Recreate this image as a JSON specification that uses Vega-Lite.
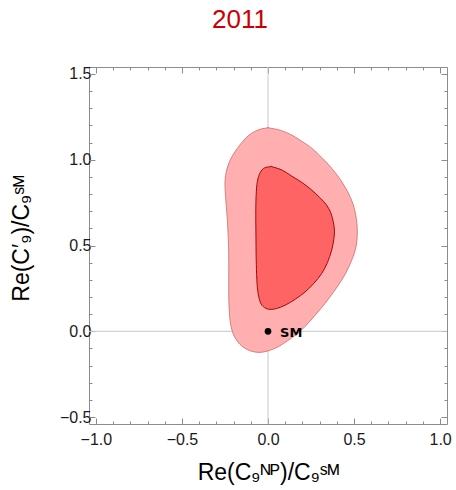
{
  "$schema": "https://vega.github.io/schema/vega-lite/v6.json",
  "autosize": {"type": "none"},
  "padding": {"left": 89, "top": 67, "right": 9, "bottom": 66},
  "width": 358,
  "height": 357,
  "title": {
    "text": "2011",
    "color": "#cc0000",
    "font": "Liberation Sans",
    "fontSize": 26,
    "fontWeight": "normal",
    "anchor": "middle",
    "dx": -28,
    "offset": 12,
    "baseline": "alphabetic"
  },
  "config": {
    "view": {"stroke": "#8c8c8c", "strokeWidth": 1},
    "axis": {
      "domain": false,
      "grid": false,
      "tickColor": "#8c8c8c",
      "tickWidth": 1,
      "labelFont": "Liberation Sans",
      "labelFontSize": 16,
      "labelColor": "#1a1a1a",
      "titleFont": "Liberation Sans",
      "titleFontSize": 23,
      "titleFontWeight": "normal",
      "titleColor": "#000000"
    }
  },
  "datasets": {
    "outer": [
      {"i": 0, "x": 0.0, "y": 1.186},
      {"i": 1, "x": 0.07, "y": 1.172},
      {"i": 2, "x": 0.137, "y": 1.144},
      {"i": 3, "x": 0.2, "y": 1.105},
      {"i": 4, "x": 0.254, "y": 1.067},
      {"i": 5, "x": 0.315, "y": 1.01},
      {"i": 6, "x": 0.37, "y": 0.95},
      {"i": 7, "x": 0.42, "y": 0.885},
      {"i": 8, "x": 0.463, "y": 0.813},
      {"i": 9, "x": 0.493, "y": 0.745},
      {"i": 10, "x": 0.51, "y": 0.677},
      {"i": 11, "x": 0.518, "y": 0.61},
      {"i": 12, "x": 0.518, "y": 0.55},
      {"i": 13, "x": 0.511, "y": 0.49},
      {"i": 14, "x": 0.494, "y": 0.434},
      {"i": 15, "x": 0.465, "y": 0.365},
      {"i": 16, "x": 0.428, "y": 0.298},
      {"i": 17, "x": 0.38, "y": 0.228},
      {"i": 18, "x": 0.331, "y": 0.162},
      {"i": 19, "x": 0.275, "y": 0.095},
      {"i": 20, "x": 0.215, "y": 0.028},
      {"i": 21, "x": 0.165, "y": -0.018},
      {"i": 22, "x": 0.118, "y": -0.052},
      {"i": 23, "x": 0.06, "y": -0.09},
      {"i": 24, "x": 0.0, "y": -0.114},
      {"i": 25, "x": -0.05, "y": -0.123},
      {"i": 26, "x": -0.1, "y": -0.115},
      {"i": 27, "x": -0.145, "y": -0.092},
      {"i": 28, "x": -0.18, "y": -0.055},
      {"i": 29, "x": -0.203, "y": -0.013},
      {"i": 30, "x": -0.217, "y": 0.04},
      {"i": 31, "x": -0.224, "y": 0.103},
      {"i": 32, "x": -0.228, "y": 0.2},
      {"i": 33, "x": -0.228, "y": 0.298},
      {"i": 34, "x": -0.228, "y": 0.4},
      {"i": 35, "x": -0.229, "y": 0.492},
      {"i": 36, "x": -0.233, "y": 0.59},
      {"i": 37, "x": -0.238, "y": 0.677},
      {"i": 38, "x": -0.246, "y": 0.776},
      {"i": 39, "x": -0.25, "y": 0.872},
      {"i": 40, "x": -0.24, "y": 0.94},
      {"i": 41, "x": -0.221, "y": 0.995},
      {"i": 42, "x": -0.193, "y": 1.045},
      {"i": 43, "x": -0.163, "y": 1.086},
      {"i": 44, "x": -0.13, "y": 1.125},
      {"i": 45, "x": -0.095, "y": 1.154},
      {"i": 46, "x": -0.05, "y": 1.176},
      {"i": 47, "x": 0.0, "y": 1.186}
    ],
    "inner": [
      {"i": 0, "x": 0.02, "y": 0.96},
      {"i": 1, "x": 0.08, "y": 0.94},
      {"i": 2, "x": 0.137, "y": 0.905},
      {"i": 3, "x": 0.2, "y": 0.865},
      {"i": 4, "x": 0.254, "y": 0.823},
      {"i": 5, "x": 0.3, "y": 0.78},
      {"i": 6, "x": 0.34, "y": 0.736},
      {"i": 7, "x": 0.365, "y": 0.69},
      {"i": 8, "x": 0.379, "y": 0.638},
      {"i": 9, "x": 0.386, "y": 0.59},
      {"i": 10, "x": 0.383, "y": 0.54},
      {"i": 11, "x": 0.37, "y": 0.473},
      {"i": 12, "x": 0.345, "y": 0.4},
      {"i": 13, "x": 0.312, "y": 0.337},
      {"i": 14, "x": 0.265, "y": 0.278},
      {"i": 15, "x": 0.215, "y": 0.229},
      {"i": 16, "x": 0.16, "y": 0.188},
      {"i": 17, "x": 0.099, "y": 0.152},
      {"i": 18, "x": 0.05, "y": 0.133},
      {"i": 19, "x": 0.012, "y": 0.128},
      {"i": 20, "x": -0.02, "y": 0.138},
      {"i": 21, "x": -0.045, "y": 0.17},
      {"i": 22, "x": -0.06, "y": 0.239},
      {"i": 23, "x": -0.066, "y": 0.33},
      {"i": 24, "x": -0.069, "y": 0.45},
      {"i": 25, "x": -0.07, "y": 0.56},
      {"i": 26, "x": -0.071, "y": 0.68},
      {"i": 27, "x": -0.069, "y": 0.79},
      {"i": 28, "x": -0.062, "y": 0.872},
      {"i": 29, "x": -0.045, "y": 0.925},
      {"i": 30, "x": -0.02, "y": 0.952},
      {"i": 31, "x": 0.02, "y": 0.96}
    ],
    "sm": [{"x": 0, "y": 0, "label": "SM", "lx": 0.135, "ly": -0.008}]
  },
  "resolve": {"axis": {"x": "independent", "y": "independent"}},
  "layer": [
    {
      "data": {"values": [{"x": 0}]},
      "mark": {"type": "rule", "color": "#c8c8c8", "strokeWidth": 1},
      "encoding": {
        "x": {
          "field": "x", "type": "quantitative",
          "scale": {"domain": [-1.04, 1.04], "nice": false, "zero": false},
          "axis": {
            "orient": "bottom",
            "values": [-1, -0.5, 0, 0.5, 1],
            "format": ".1f",
            "tickSize": -6,
            "labelPadding": 13,
            "title": "Re(C₉ᴺᴾ)/C₉ˢᴹ",
            "titleX": 179,
            "titleY": 55,
            "titleAlign": "center",
            "titleBaseline": "alphabetic"
          }
        }
      }
    },
    {
      "data": {"values": [{"y": 0}]},
      "mark": {"type": "rule", "color": "#c8c8c8", "strokeWidth": 1},
      "encoding": {
        "y": {
          "field": "y", "type": "quantitative",
          "scale": {"domain": [-0.54, 1.54], "nice": false, "zero": false},
          "axis": {
            "orient": "left",
            "values": [-0.5, 0, 0.5, 1, 1.5],
            "format": ".1f",
            "tickSize": -6,
            "labelPadding": 4,
            "title": "Re(C′₉)/C₉ˢᴹ",
            "titleAngle": -90,
            "titleX": -61,
            "titleY": 171,
            "titleAlign": "center",
            "titleBaseline": "alphabetic"
          }
        }
      }
    },
    {
      "data": {"name": "outer"},
      "mark": {"type": "line", "filled": true, "fill": "#ffafaf", "stroke": "#cc6a6a", "strokeWidth": 0.8, "interpolate": "cardinal-closed"},
      "encoding": {
        "x": {
          "field": "x", "type": "quantitative",
          "scale": {"domain": [-1.04, 1.04], "nice": false, "zero": false},
          "axis": {
            "orient": "bottom",
            "values": [-1, -0.9, -0.8, -0.7, -0.6, -0.5, -0.4, -0.3, -0.2, -0.1, 0, 0.1, 0.2, 0.3, 0.4, 0.5, 0.6, 0.7, 0.8, 0.9, 1],
            "labels": false, "tickSize": -3, "title": null
          }
        },
        "y": {
          "field": "y", "type": "quantitative",
          "scale": {"domain": [-0.54, 1.54], "nice": false, "zero": false},
          "axis": {
            "orient": "left",
            "values": [-0.5, -0.4, -0.3, -0.2, -0.1, 0, 0.1, 0.2, 0.3, 0.4, 0.5, 0.6, 0.7, 0.8, 0.9, 1, 1.1, 1.2, 1.3, 1.4, 1.5],
            "labels": false, "tickSize": -3, "title": null
          }
        },
        "order": {"field": "i", "type": "quantitative"}
      }
    },
    {
      "data": {"name": "inner"},
      "mark": {"type": "line", "filled": true, "fill": "#ff6464", "stroke": "#9e0a0a", "strokeWidth": 1, "interpolate": "cardinal-closed"},
      "encoding": {
        "x": {
          "field": "x", "type": "quantitative",
          "scale": {"domain": [-1.04, 1.04], "nice": false, "zero": false},
          "axis": {
            "orient": "top",
            "values": [-1, -0.9, -0.8, -0.7, -0.6, -0.5, -0.4, -0.3, -0.2, -0.1, 0, 0.1, 0.2, 0.3, 0.4, 0.5, 0.6, 0.7, 0.8, 0.9, 1],
            "labels": false, "tickSize": -3, "title": null
          }
        },
        "y": {
          "field": "y", "type": "quantitative",
          "scale": {"domain": [-0.54, 1.54], "nice": false, "zero": false},
          "axis": {
            "orient": "right",
            "values": [-0.5, -0.4, -0.3, -0.2, -0.1, 0, 0.1, 0.2, 0.3, 0.4, 0.5, 0.6, 0.7, 0.8, 0.9, 1, 1.1, 1.2, 1.3, 1.4, 1.5],
            "labels": false, "tickSize": -3, "title": null
          }
        },
        "order": {"field": "i", "type": "quantitative"}
      }
    },
    {
      "data": {"name": "sm"},
      "mark": {"type": "point", "filled": true, "color": "#000000", "opacity": 1, "size": 45},
      "encoding": {
        "x": {
          "field": "x", "type": "quantitative",
          "scale": {"domain": [-1.04, 1.04], "nice": false, "zero": false},
          "axis": {"orient": "top", "values": [-1, -0.5, 0, 0.5, 1], "labels": false, "tickSize": -6, "title": null}
        },
        "y": {
          "field": "y", "type": "quantitative",
          "scale": {"domain": [-0.54, 1.54], "nice": false, "zero": false},
          "axis": {"orient": "right", "values": [-0.5, 0, 0.5, 1, 1.5], "labels": false, "tickSize": -6, "title": null}
        }
      }
    },
    {
      "data": {"name": "sm"},
      "mark": {"type": "text", "font": "DejaVu Sans", "fontWeight": "bold", "fontSize": 13, "color": "#000000", "align": "center", "baseline": "middle"},
      "encoding": {
        "x": {"field": "lx", "type": "quantitative", "scale": {"domain": [-1.04, 1.04], "nice": false, "zero": false}, "axis": null},
        "y": {"field": "ly", "type": "quantitative", "scale": {"domain": [-0.54, 1.54], "nice": false, "zero": false}, "axis": null},
        "text": {"field": "label"}
      }
    }
  ]
}
